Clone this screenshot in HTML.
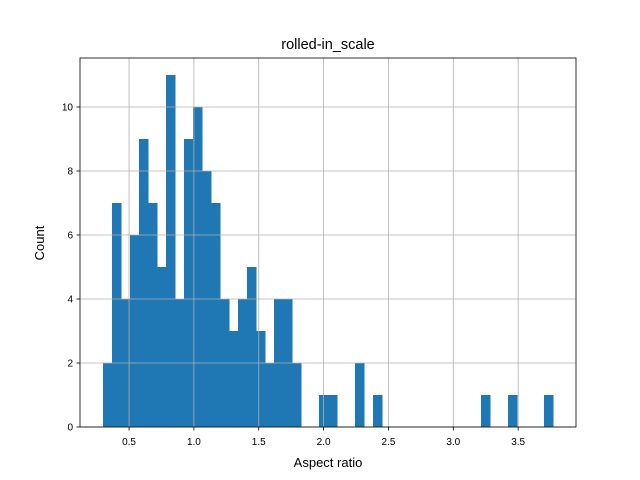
<!DOCTYPE html>
<html><head><meta charset="utf-8"><style>body{margin:0;background:#fff}svg{display:block;font-family:"Liberation Sans","DejaVu Sans",sans-serif}</style></head>
<body>
<svg id="chart" width="640" height="480">
<rect x="80" y="58" width="496" height="369" fill="#fff"/>
<g id="bars" shape-rendering="crispEdges"></g><g id="grid"></g><g id="axes"></g>
<text x="328" y="49" text-anchor="middle" font-size="14.5">rolled-in_scale</text>
<text x="328" y="467" text-anchor="middle" font-size="13">Aspect ratio</text>
<text x="44" y="243" text-anchor="middle" font-size="13" transform="rotate(-90 44 243)">Count</text>
</svg>
<script>
const binStart = 0.299;
const binWidth = 0.0694;
const counts = [2,7,4,6,9,7,5,11,4,9,10,8,7,4,3,4,5,3,2,4,4,2,0,0,1,1,0,0,2,0,1,0,0,0,0,0,0,0,0,0,0,0,1,0,0,1,0,0,0,1];
const xTicks = [0.5,1.0,1.5,2.0,2.5,3.0,3.5];
const xTickLabels = ["0.5","1.0","1.5","2.0","2.5","3.0","3.5"];
const yTicks = [0,2,4,6,8,10];
const yTickLabels = ["0","2","4","6","8","10"];
const NS="http://www.w3.org/2000/svg";
const X=v=>64.2+129.7*v, Y=v=>427-32*v;
function mk(tag,attrs,parent){const e=document.createElementNS(NS,tag);for(const k in attrs)e.setAttribute(k,attrs[k]);parent.appendChild(e);return e;}
const grid=document.getElementById('grid'),bars=document.getElementById('bars'),axes=document.getElementById('axes');
xTicks.forEach((t,i)=>{
 const g=mk('line',{x1:X(t),x2:X(t),y1:58,y2:427,stroke:'#b0b0b0','stroke-width':0.8},grid);
 
 
 mk('line',{x1:X(t),x2:X(t),y1:427,y2:430.5,stroke:'#000','stroke-width':0.8},axes);
 const tx=mk('text',{x:X(t),y:445,'text-anchor':'middle','font-size':10},axes);tx.textContent=xTickLabels[i];
 
 
});
yTicks.forEach((t,i)=>{
 const g=mk('line',{x1:80,x2:576,y1:Y(t),y2:Y(t),stroke:'#b0b0b0','stroke-width':0.8},grid);
 
 
 mk('line',{x1:76.5,x2:80,y1:Y(t),y2:Y(t),stroke:'#000','stroke-width':0.8},axes);
 const tx=mk('text',{x:73,y:Y(t)+3.5,'text-anchor':'end','font-size':10},axes);tx.textContent=yTickLabels[i];
 
 
});
counts.forEach((c,i)=>{
 if(!c)return;
 const x0=X(binStart+i*binWidth),x1=X(binStart+(i+1)*binWidth);
 const r=mk('rect',{x:x0,y:Y(c),width:x1-x0+0.3,height:Y(0)-Y(c),fill:'#1f77b4'},bars);
 
 
});
const f=mk('rect',{x:80,y:58,width:496,height:369,fill:'none',stroke:'#000','stroke-width':0.8},axes);


</script>
</body></html>
